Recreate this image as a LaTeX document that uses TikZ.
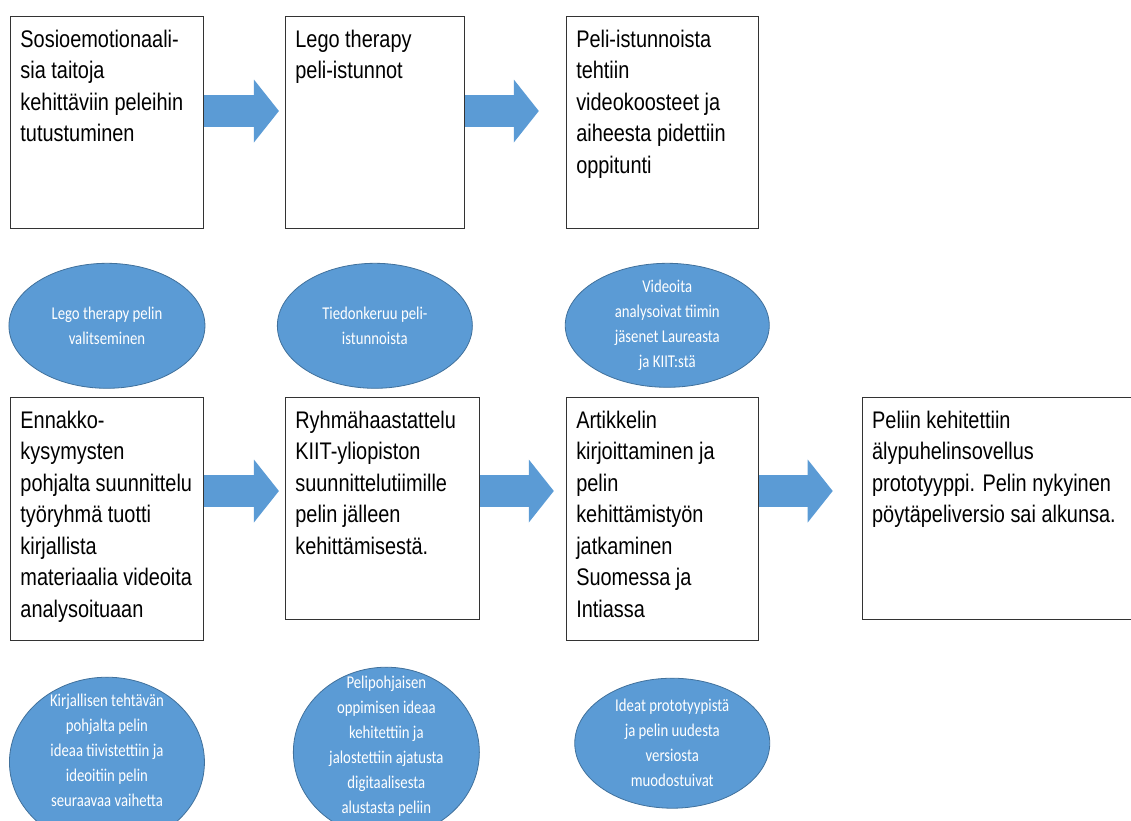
\documentclass[tikz,border=0pt]{standalone}
\usepackage{fontspec}
\setmainfont{Liberation Sans}[FakeStretch=0.83]
\newfontfamily\bubblefamily{Carlito}[FakeStretch=0.82]
\usetikzlibrary{positioning, shapes.geometric, arrows.meta}

\definecolor{arrowblue}{HTML}{5B9BD5}
\definecolor{bubbleedge}{HTML}{41719C}

% text of a stage box, set from the top left corner
\newcommand{\stagetext}[3]{\parbox[t][#2][t]{#1}{\raggedright\leftskip=10pt\rule{0pt}{31pt}#3}}

\begin{document}
\begin{tikzpicture}[x=1pt, y=1pt,
		stage/.style={draw=black!80, line width=0.9pt, inner sep=0pt, font=\fontsize{24}{31.5}\selectfont},
		bubble/.style={ellipse, draw=bubbleedge, line width=0.8pt, fill=arrowblue, inner sep=0pt},
		bubbletext/.style={align=center, text=white, font=\bubblefamily\fontsize{18}{25}\selectfont},
		flow/.style={draw=arrowblue, line width=32pt, -{Triangle[length=25pt, width=63pt, line width=0pt]}}]
		\useasboundingbox (0,0) rectangle (1131,-820);

		\node [stage, anchor=north west] (b1) at (10,-16) {\stagetext{193pt}{212pt}{Sosioemotionaali-\\sia taitoja\\kehittäviin peleihin\\tutustuminen}};
		\node [stage, right=81pt of b1.north east, anchor=north west] (b2) {\stagetext{179pt}{212pt}{Lego therapy\\peli-istunnot}};
		\node [stage, right=101pt of b2.north east, anchor=north west] (b3) {\stagetext{192pt}{212pt}{Peli-istunnoista\\tehtiin\\videokoosteet ja\\aiheesta pidettiin\\oppitunti}};
		\node [stage, below=168pt of b1.south west, anchor=north west] (b4) {\stagetext{193pt}{243pt}{Ennakko-\\kysymysten\\pohjalta suunnittelu\\työryhmä tuotti\\kirjallista\\materiaalia videoita\\analysoituaan}};
		\node [stage, right=81pt of b4.north east, anchor=north west] (b5) {\stagetext{194pt}{222pt}{Ryhmähaastattelu\\KIIT-yliopiston\\suunnittelutiimille\\pelin jälleen\\kehittämisestä.}};
		\node [stage, right=86pt of b5.north east, anchor=north west] (b6) {\stagetext{192pt}{243pt}{Artikkelin\\kirjoittaminen ja\\pelin\\kehittämistyön\\jatkaminen\\Suomessa ja\\Intiassa}};
		\node [stage, right=103pt of b6.north east, anchor=north west] (b7) {\stagetext{275pt}{222pt}{Peliin kehitettiin\\älypuhelinsovellus\\prototyyppi. Pelin nykyinen\\pöytäpeliversio sai alkunsa.}};

		\node [bubble, minimum width=196pt, minimum height=125pt, below=34pt of b1, label={[bubbletext]center:{Lego therapy pelin\\valitseminen}}] (e1) {};
		\node [bubble, minimum width=195pt, minimum height=125pt, below=34pt of b2, label={[bubbletext]center:{Tiedonkeruu peli-\\istunnoista}}] (e2) {};
		\node [bubble, minimum width=204pt, minimum height=124pt, below=34pt of b3, xshift=5pt, label={[bubbletext]center:{Videoita\\analysoivat tiimin\\jäsenet Laureasta\\ja KIIT:stä}}] (e3) {};
		\node [bubble, minimum width=195pt, minimum height=170pt, below=36pt of b4, label={[bubbletext, yshift=12pt]center:{Kirjallisen tehtävän\\pohjalta pelin\\ideaa tiivistettiin ja\\ideoitiin pelin\\seuraavaa vaihetta}}] (e4) {};
		\node [bubble, minimum width=186pt, minimum height=170pt, below=47pt of b5, xshift=4pt, label={[bubbletext, yshift=6pt]center:{Pelipohjaisen\\oppimisen ideaa\\kehitettiin ja\\jalostettiin ajatusta\\digitaalisesta\\alustasta peliin}}] (e5) {};
		\node [bubble, minimum width=195pt, minimum height=130pt, below=37pt of b6, xshift=10pt, label={[bubbletext]center:{Ideat prototyypistä\\ja pelin uudesta\\versiosta\\muodostuivat}}] (e6) {};

		\coordinate (row1) at (0,-111);
		\coordinate (row2) at (0,-491);
		\draw[flow, shorten >=6pt] (b1.east |- row1) -- (b2.west |- row1);
		\draw[flow, shorten >=27pt] (b2.east |- row1) -- (b3.west |- row1);
		\draw[flow, shorten >=6pt] (b4.east |- row2) -- (b5.west |- row2);
		\draw[flow, shorten >=12pt] (b5.east |- row2) -- (b6.west |- row2);
		\draw[flow, shorten >=29pt] (b6.east |- row2) -- (b7.west |- row2);
	\end{tikzpicture}
\end{document}
